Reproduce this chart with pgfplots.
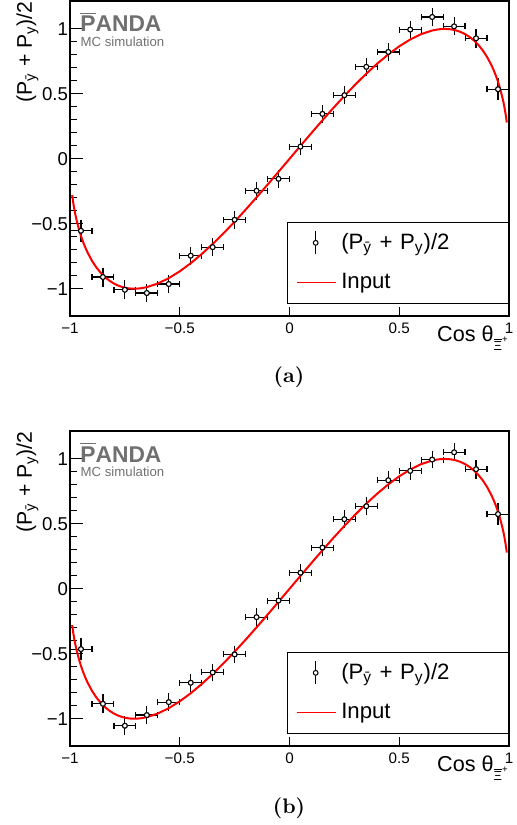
\documentclass[border=0pt]{standalone}
\usepackage{fontspec}
\newfontfamily\arial{Liberation Sans}
\usepackage{pgfplots}
\usepackage{pgfplotstable}
\pgfplotsset{compat=1.18}
\definecolor{pgray}{RGB}{112,112,112}

\pgfplotstableread{
x y ex ey
-0.95 -0.554 0.05 0.06
-0.85 -0.910 0.05 0.05
-0.75 -1.008 0.05 0.05
-0.65 -1.033 0.05 0.045
-0.55 -0.964 0.05 0.045
-0.45 -0.746 0.05 0.045
-0.35 -0.680 0.05 0.045
-0.25 -0.469 0.05 0.045
-0.15 -0.246 0.05 0.045
-0.05 -0.154 0.05 0.045
0.05 0.094 0.05 0.045
0.15 0.346 0.05 0.045
0.25 0.490 0.05 0.045
0.35 0.708 0.05 0.045
0.45 0.823 0.05 0.045
0.55 0.995 0.05 0.045
0.65 1.092 0.05 0.045
0.75 1.020 0.05 0.045
0.85 0.928 0.05 0.05
0.95 0.536 0.05 0.06
}\dataA

\pgfplotstableread{
x y ex ey
-0.95 -0.464 0.05 0.06
-0.85 -0.885 0.05 0.05
-0.75 -1.054 0.05 0.05
-0.65 -0.972 0.05 0.045
-0.55 -0.872 0.05 0.045
-0.45 -0.723 0.05 0.045
-0.35 -0.644 0.05 0.045
-0.25 -0.505 0.05 0.045
-0.15 -0.218 0.05 0.045
-0.05 -0.090 0.05 0.045
0.05 0.124 0.05 0.045
0.15 0.318 0.05 0.045
0.25 0.536 0.05 0.045
0.35 0.636 0.05 0.045
0.45 0.836 0.05 0.045
0.55 0.908 0.05 0.045
0.65 0.995 0.05 0.045
0.75 1.051 0.05 0.045
0.85 0.921 0.05 0.05
0.95 0.575 0.05 0.06
}\dataB

\pgfplotstableread{
x y
-0.99 -0.27932
-0.985 -0.33993
-0.98 -0.39004
-0.975 -0.43330
-0.97 -0.47162
-0.96 -0.53760
-0.95 -0.59327
-0.94 -0.64140
-0.93 -0.68366
-0.92 -0.72113
-0.90 -0.78460
-0.88 -0.83595
-0.86 -0.87770
-0.84 -0.91155
-0.82 -0.93867
-0.80 -0.96000
-0.78 -0.97622
-0.76 -0.98788
-0.74 -0.99546
-0.72 -0.99932
-0.70 -0.99980
-0.68 -0.99717
-0.65 -0.98791
-0.60 -0.96000
-0.55 -0.91868
-0.50 -0.86603
-0.45 -0.80373
-0.40 -0.73321
-0.35 -0.65573
-0.30 -0.57236
-0.25 -0.48412
-0.20 -0.39192
-0.15 -0.29661
-0.10 -0.19900
-0.05 -0.09987
0.00 0.00000
0.05 0.09987
0.10 0.19900
0.15 0.29661
0.20 0.39192
0.25 0.48412
0.30 0.57236
0.35 0.65573
0.40 0.73321
0.45 0.80373
0.50 0.86603
0.55 0.91868
0.60 0.96000
0.65 0.98791
0.68 0.99717
0.70 0.99980
0.72 0.99932
0.74 0.99546
0.76 0.98788
0.78 0.97622
0.80 0.96000
0.82 0.93867
0.84 0.91155
0.86 0.87770
0.88 0.83595
0.90 0.78460
0.92 0.72113
0.93 0.68366
0.94 0.64140
0.95 0.59327
0.96 0.53760
0.97 0.47162
0.975 0.43330
0.98 0.39004
0.985 0.33993
0.99 0.27932
}\curve

\pgfplotsset{
  panel/.style={
    scale only axis, width=219.5pt, height=157.5pt,
    xmin=-1, xmax=1, ymin=-1.21, ymax=1.215,
    xtick={-1,-0.5,0,0.5,1},
    xticklabels={−1,−0.5,0,0.5,1},
    ytick={-1,-0.5,0,0.5,1},
    yticklabels={−1,−0.5,0,0.5,1},
    minor y tick num=4,
    minor x tick num=0,
    tick align=inside, tick pos=left,
    major tick length=6.3pt, minor tick length=3.3pt,
    xtick style={/pgfplots/major tick length=4.5pt, line width=0.5pt, black},
    ytick style={line width=0.5pt, black},
    axis line style={line width=0.6pt},
    xticklabel style={font=\arial\fontsize{7.6}{9}\selectfont},
    yticklabel style={font=\arial\fontsize{9.3}{10}\selectfont, inner xsep=0.8pt},
    xlabel={Cos θ\raisebox{-0.42em}{\fontsize{6.5}{6.5}\selectfont$\overline{\mbox{Ξ}}$\raisebox{0.6em}{\fontsize{4.8}{5}\selectfont+}}},
    xlabel style={at={(axis description cs:0.998,-0.0816)}, anchor=base east, font=\arial\fontsize{10.8}{12}\selectfont, inner sep=0pt},
    ylabel={(P\textsubscript{ȳ} + P\textsubscript{y})/2},
    ylabel style={at={(axis description cs:-0.0866,1)}, anchor=base east, font=\arial\fontsize{10.6}{12}\selectfont, inner sep=0pt},
    legend cell align=left,
    legend style={at={(rel axis cs:1,0.038)}, anchor=south east, draw=black, line width=0.5pt, fill=white,
      inner xsep=0pt, inner ysep=0.5pt, row sep=0pt,
      nodes={inner xsep=0pt, inner ysep=0pt, text width=83.6pt, font=\arial\fontsize{11.1}{13}\selectfont}},
  },
  ptsx/.style={only marks, mark=*, mark size=1.2pt,
    mark options={fill=white, draw=black, line width=0.5pt},
    error bars/.cd, x dir=both, x explicit,
    error bar style={line width=0.6pt, black},
    error mark=|,
    error mark options={mark size=1.5pt, line width=0.6pt, black}},
  ptsy/.style={only marks, mark=*, mark size=1.2pt,
    mark options={fill=white, draw=black, line width=0.5pt},
    error bars/.cd, y dir=both, y explicit,
    error bar style={line width=0.6pt, black},
    error mark=-,
    error mark options={mark size=1.5pt, line width=0.6pt, black}},
  ptslegend/.style={black, line width=0.5pt, legend image code/.code={
    \path (0pt,-9.6pt) (25.9pt,9.6pt);
    \draw (13.5pt,-5.8pt) -- (13.5pt,5.8pt);
    \filldraw[fill=white] (13.5pt,0pt) circle (1.2pt);}},
  curvelegend/.style={red, line width=0.8pt, legend image code/.code={
    \path (0pt,-9.6pt) (25.9pt,9.6pt);
    \draw (4pt,0pt) -- (23.5pt,0pt);}},
}

\begin{document}
\begin{tikzpicture}[x=1pt,y=1pt]
\path[use as bounding box] (0,0) rectangle (258,-412.5);

\begin{axis}[panel, at={(35pt,-158pt)}, anchor=south west]
\addplot[forget plot, ptsx] table[x=x, y=y, x error=ex] {\dataA};
\addplot[forget plot, ptsy] table[x=x, y=y, y error=ey] {\dataA};
\addplot[forget plot, red, line width=1pt] table[x=x, y=y] {\curve};
\addlegendimage{ptslegend}
\addlegendentry{(P\textsubscript{ȳ} + P\textsubscript{y})/2}
\addlegendimage{curvelegend}
\addlegendentry{Input}
\node[anchor=base west, inner sep=0pt, text=pgray, font=\arial\bfseries\fontsize{11.4}{12}\selectfont] at (rel axis cs:0.0228,0.9016) {$\overline{\mbox{P}}$ANDA};
\node[anchor=base west, inner sep=0pt, text=pgray, font=\arial\fontsize{6.6}{7}\selectfont] at (rel axis cs:0.0235,0.854) {MC simulation};
\end{axis}
\node[font=\bfseries\fontsize{10.5}{12}\selectfont] at (144.5,-188.5) {(a)};

\begin{axis}[panel, at={(35pt,-373pt)}, anchor=south west]
\addplot[forget plot, ptsx] table[x=x, y=y, x error=ex] {\dataB};
\addplot[forget plot, ptsy] table[x=x, y=y, y error=ey] {\dataB};
\addplot[forget plot, red, line width=1pt] table[x=x, y=y] {\curve};
\addlegendimage{ptslegend}
\addlegendentry{(P\textsubscript{ȳ} + P\textsubscript{y})/2}
\addlegendimage{curvelegend}
\addlegendentry{Input}
\node[anchor=base west, inner sep=0pt, text=pgray, font=\arial\bfseries\fontsize{11.4}{12}\selectfont] at (rel axis cs:0.0228,0.9016) {$\overline{\mbox{P}}$ANDA};
\node[anchor=base west, inner sep=0pt, text=pgray, font=\arial\fontsize{6.6}{7}\selectfont] at (rel axis cs:0.0235,0.854) {MC simulation};
\end{axis}
\node[font=\bfseries\fontsize{10.5}{12}\selectfont] at (144.5,-404) {(b)};
\end{tikzpicture}
\end{document}
